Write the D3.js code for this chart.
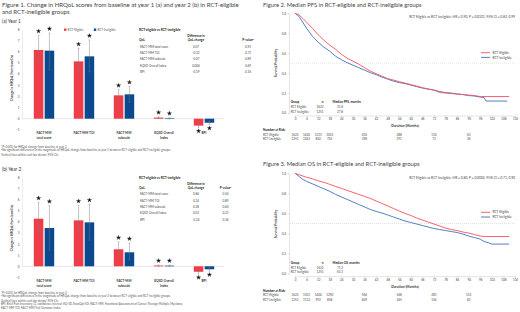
<!DOCTYPE html>
<html><head><meta charset="utf-8">
<script src="https://cdn.jsdelivr.net/npm/d3@7"></script>
<style>
html,body{margin:0;padding:0;background:#fff;}
svg{display:block;font-family:Lato,"Open Sans",sans-serif;}
</style></head>
<body>
<script>
// ---------- DATA ----------
const categories = ["FACT-MM|total score","FACT-MM TOI","FACT-MM|subscale","EQ5D Overall|Index","BPI"];
const groups = ["RCT-Eligible","RCT-Ineligible"];
const yTicks = [-1,0,1,2,3,4,5,6,7,8];

// Year 1
const y1Eligible   = [6.15, 5.13, 2.09, 0.10, -0.62];
const y1EligLo     = [4.87, 4.06, 1.60, 0.02, -0.80];
const y1EligHi     = [7.46, 6.30, 2.60, 0.18, -0.45];
const y1Ineligible = [6.09, 5.58, 2.18, 0.05, -0.36];
const y1IneligLo   = [4.36, 4.20, 1.45, -0.02, -0.55];
const y1IneligHi   = [7.67, 7.05, 2.88, 0.10, -0.20];
// Year 2
const y2Eligible   = [4.28, 4.13, 1.53, 0.07, -0.49];
const y2EligLo     = [2.80, 2.93, 0.95, 0.00, -0.70];
const y2EligHi     = [5.75, 5.48, 2.20, 0.12, -0.30];
const y2Ineligible = [3.44, 3.95, 1.26, 0.06, -0.27];
const y2IneligLo   = [1.45, 2.35, 0.57, 0.00, -0.45];
const y2IneligHi   = [5.45, 5.57, 2.10, 0.12, -0.10];

const tableRows = ["FACT-MM total score","FACT-MM TOI","FACT-MM subscale","EQ5D Overall Index","BPI"];
const y1Diff = ["0.07","-0.32","-0.07","0.004","-0.19"];
const y1P    = ["0.95","0.72","0.89","0.69","0.16"];
const y2Diff = ["0.84","0.14","0.28","0.01","-0.14"];
const y2P    = ["0.50","0.89","0.60","0.21","0.34"];

// Kaplan-Meier
const kmTicksX = [0,6,12,18,24,30,36,42,48,54,60,66,72,78,84,90,96,102,108,114];
const kmTicksY = [0,0.2,0.4,0.6,0.8,1.0];
const pfsEligT = [0,2,4,6,9,12,15,18,21,24,27,30,33,36,39,42,45,48,51,54,57,60,63,66,69,72,75,78,81,84,87,90,93,96,100,111];
const pfsEligS = [1,0.985,0.95,0.91,0.85,0.785,0.73,0.68,0.64,0.59,0.55,0.52,0.49,0.455,0.42,0.395,0.37,0.345,0.33,0.315,0.3,0.285,0.27,0.255,0.24,0.23,0.205,0.2,0.195,0.19,0.185,0.18,0.175,0.165,0.165,0.165];
const pfsInelT = [0,2,4,6,9,12,15,18,21,24,27,30,33,36,39,42,45,48,51,54,57,60,63,66,69,72,75,78,81,84,87,90,93,96,98,99,110];
const pfsInelS = [1,0.97,0.91,0.85,0.77,0.71,0.66,0.62,0.57,0.535,0.505,0.48,0.455,0.43,0.405,0.385,0.36,0.34,0.32,0.305,0.295,0.28,0.265,0.25,0.24,0.23,0.215,0.205,0.2,0.19,0.185,0.175,0.17,0.16,0.155,0.12,0.12];
const osEligT = [0,3,6,9,12,15,18,21,24,27,30,33,36,39,42,45,48,51,54,57,60,63,66,69,72,75,78,81,84,87,90,93,96,98,111];
const osEligS = [1,0.98,0.96,0.945,0.925,0.91,0.89,0.87,0.85,0.83,0.81,0.79,0.77,0.75,0.725,0.7,0.675,0.65,0.625,0.6,0.58,0.555,0.535,0.515,0.495,0.475,0.455,0.44,0.43,0.415,0.405,0.39,0.375,0.37,0.37];
const osInelT = [0,2,4,6,9,12,15,18,21,24,27,30,33,36,39,42,45,48,51,54,57,60,63,66,69,72,75,78,81,84,87,90,93,96,98,100,102,111];
const osInelS = [1,0.97,0.94,0.92,0.895,0.87,0.845,0.82,0.79,0.765,0.74,0.715,0.69,0.665,0.64,0.62,0.605,0.585,0.565,0.545,0.525,0.51,0.495,0.48,0.465,0.45,0.44,0.43,0.42,0.41,0.395,0.375,0.36,0.345,0.32,0.31,0.295,0.295];

const riskMonths = [0,6,12,18,36,54,72,90];
const pfsRiskElig = [1622,1420,1215,1053,610,288,130,63];
const pfsRiskInel = [1251,1043,850,702,398,191,73,36];
const osRiskElig  = [1622,1501,1404,1290,944,548,281,153];
const osRiskInel  = [1251,1112,992,858,609,345,156,83];

// ---------- STYLE ----------
const RED = "#ee3d49", BLUE = "#0c4a90";
const KRED = "#f8505c", KBLUE = "#3f72bb";

const svg = d3.select("body").append("svg").attr("width",520).attr("height",312);
svg.append("rect").attr("width",520).attr("height",312).attr("fill","#fff");

function txt(x,y,s,o={}){
  const t = svg.append("text").attr("x",x).attr("y",y).attr("dy","0.35em")
    .attr("font-size",o.size||3).attr("fill",o.fill||"#333")
    .attr("font-weight",o.bold?"bold":"normal")
    .attr("text-anchor",o.anchor||"start");
  if(o.rotate) t.attr("transform",`rotate(-90,${x},${y})`);
  t.text(s);
  return t;
}

// ---------- FIGURE 1 ----------
txt(2,5,"Figure 1. Change in HRQoL scores from baseline at year 1 (a) and year 2 (b) in RCT-eligible",{size:6.05,fill:"#444"});
txt(2,11.6,"and RCT-ineligible groups",{size:6.05,fill:"#444"});

function barPanel(p){
  const y = d3.scaleLinear().domain([0,8]).range([p.zero,p.eight]);
  const x0 = d3.scaleBand().domain(categories).range([24,224]);
  const x1 = d3.scaleBand().domain(groups).range([9.8,30.2]).paddingInner(0.12);
  const g = svg.append("g");
  const ax = g.append("g").attr("transform","translate(22,0)")
    .call(d3.axisLeft(y).tickValues(yTicks).tickSize(0).tickPadding(2.5));
  ax.select(".domain").attr("stroke","#d4d4d4").attr("stroke-width",0.4);
  ax.selectAll("text").attr("font-size",3).attr("fill","#444").attr("font-family","Lato,sans-serif");
  g.append("line").attr("x1",22).attr("x2",224).attr("y1",y(0)).attr("y2",y(0))
    .attr("stroke","#cfcfcf").attr("stroke-width",0.5);
  const series = [
    {gr:groups[0],v:p.e,lo:p.elo,hi:p.ehi,c:RED},
    {gr:groups[1],v:p.i,lo:p.ilo,hi:p.ihi,c:BLUE}
  ];
  series.forEach(s=>{
    categories.forEach((c,k)=>{
      const bx = x0(c)+x1(s.gr), bw = x1.bandwidth();
      const v = s.v[k];
      g.append("rect").attr("x",bx).attr("width",bw)
        .attr("y",Math.min(y(v),y(0))).attr("height",Math.abs(y(v)-y(0)))
        .attr("fill",s.c);
      const cx = bx+bw/2;
      g.append("line").attr("x1",cx).attr("x2",cx).attr("y1",y(s.lo[k])).attr("y2",y(s.hi[k]))
        .attr("stroke","#7a7a7a").attr("stroke-width",0.45);
      [s.lo[k],s.hi[k]].forEach(e=>g.append("line").attr("x1",cx-0.8).attr("x2",cx+0.8)
        .attr("y1",y(e)).attr("y2",y(e)).attr("stroke","#7a7a7a").attr("stroke-width",0.45));
      const ay = v>=0 ? y(s.hi[k])-4.2 : y(s.lo[k])+3.4;
      g.append("path").attr("d",d3.symbol(d3.symbolStar,5.5)())
        .attr("transform",`translate(${cx},${ay})`).attr("fill","#111").attr("stroke","#111").attr("stroke-width",0.3);
    });
  });
  categories.forEach(c=>{
    c.split("|").forEach((ln,j)=>txt(x0(c)+x0.bandwidth()/2,p.lab+j*4.4,ln,{size:3.2,anchor:"middle",fill:"#333",bold:true}));
  });
  txt(11.5,p.ytc,"Change in HRQoL from baseline",{size:3.3,rotate:true,anchor:"middle",fill:"#333",bold:true});
  txt(139,p.t0,"RCT-eligible vs RCT-ineligible",{size:3.2,bold:true,fill:"#222"});
  txt(p.dc,p.t0+5.8,"Difference in",{size:3.1,bold:true,anchor:"middle",fill:"#222"});
  txt(p.dc,p.t0+10.3,"QoL change",{size:3.1,bold:true,anchor:"middle",fill:"#222"});
  txt(139,p.t0+10.3,"QoL",{size:3.1,bold:true,fill:"#222"});
  const ph = txt(p.pc,p.t0+10.3,"P-value",{size:3.1,bold:true,anchor:"middle",fill:"#222"});
  ph.append("tspan").attr("font-size",2).attr("dy","-1").text("b");
  tableRows.forEach((r,k)=>{
    const ry = p.t0+16.5+k*6.35;
    txt(140,ry,r,{size:3,fill:"#444"});
    txt(p.dc,ry,p.diff[k],{size:3,anchor:"middle",fill:"#444"});
    txt(p.pc,ry,p.pv[k],{size:3,anchor:"middle",fill:"#444"});
  });
}

txt(2,21,"(a)  Year 1",{size:4.8,fill:"#333"});
barPanel({zero:118.7,eight:29.3,e:y1Eligible,elo:y1EligLo,ehi:y1EligHi,i:y1Ineligible,ilo:y1IneligLo,ihi:y1IneligHi,
  lab:133.3,ytc:78,t0:30,dc:196,pc:248,diff:y1Diff,pv:y1P});
svg.append("rect").attr("x",64).attr("y",28.5).attr("width",2.4).attr("height",2.4).attr("fill",RED);
txt(67.6,29.7,"RCT-Eligible",{size:3,fill:"#555"});
svg.append("rect").attr("x",93.8).attr("y",28.5).attr("width",2.4).attr("height",2.4).attr("fill",BLUE);
txt(97.4,29.7,"RCT-Ineligible",{size:3,fill:"#555"});

txt(1,146.5,"*P<0.001 for HRQoL change from baseline at year 1.",{size:2.9,fill:"#555"});
const fb1 = txt(1,150.6,"",{size:2.9,fill:"#555"});
fb1.append("tspan").attr("font-size",2).attr("dy","-0.8").text("b");
fb1.append("tspan").attr("dy","0.8").text("No significant differences in the magnitude of HRQoL change from baseline at year 1 between RCT-eligible and RCT-ineligible groups.");
txt(1,154.6,"Vertical lines within each bar denote 95% CIs.",{size:2.9,fill:"#555"});

txt(2,169,"(b)  Year 2",{size:4.8,fill:"#333"});
barPanel({zero:266.3,eight:177.3,e:y2Eligible,elo:y2EligLo,ehi:y2EligHi,i:y2Ineligible,ilo:y2IneligLo,ihi:y2IneligHi,
  lab:281,ytc:228,t0:177.7,dc:196,pc:225.5,diff:y2Diff,pv:y2P});

txt(1,293.3,"*P<0.001 for HRQoL change from baseline at year 2.",{size:2.9,fill:"#555"});
const fb2 = txt(1,297,"",{size:2.9,fill:"#555"});
fb2.append("tspan").attr("font-size",2).attr("dy","-0.8").text("b");
fb2.append("tspan").attr("dy","0.8").text("No significant differences in the magnitude of HRQoL change from baseline at year 2 between RCT-eligible and RCT-ineligible groups.");
txt(1,300.7,"Vertical lines within each bar denote 95% CIs.",{size:2.9,fill:"#555"});
txt(1,304.4,"BPI, Brief Pain Inventory; CI, confidence interval; EQ-5D, EuroQol-5D; FACT-MM, Functional Assessment of Cancer Therapy-Multiple Myeloma;",{size:2.9,fill:"#555"});
txt(1,308.1,"FACT-MM TOI, FACT-MM Trial Outcome Index.",{size:2.9,fill:"#555"});

// ---------- FIGURES 2 & 3 ----------
function kmPanel(p){
  const x = d3.scaleLinear().domain([0,114]).range([295,515]);
  const y = d3.scaleLinear().domain([0,1]).range([p.y0,p.y1]);
  const g = svg.append("g");
  txt(263,p.title,p.titleText,{size:5.8,fill:"#444"});
  const axY = g.append("g").attr("transform","translate(289,0)")
    .call(d3.axisLeft(y).tickValues(kmTicksY).tickFormat(d3.format(".1f")).tickSize(1.5).tickPadding(1.5));
  const axX = g.append("g").attr("transform",`translate(0,${p.y0+2.5})`)
    .call(d3.axisBottom(x).tickValues(kmTicksX).tickSize(1.5).tickPadding(1.2));
  [axY,axX].forEach(a=>{
    a.select(".domain").attr("stroke","#bbb").attr("stroke-width",0.4);
    a.selectAll(".tick line").attr("stroke","#bbb").attr("stroke-width",0.4);
    a.selectAll("text").attr("font-size",3).attr("fill","#444").attr("font-family","Lato,sans-serif");
  });
  g.append("line").attr("x1",290).attr("x2",515).attr("y1",y(0.5)).attr("y2",y(0.5))
    .attr("stroke","#bbb").attr("stroke-width",0.45).attr("stroke-dasharray","1,1");
  const line = d3.line().x(d=>x(d[0])).y(d=>y(d[1]));
  [[p.it,p.is,KBLUE],[p.et,p.es,KRED]].forEach(([t,s,c])=>{
    g.append("path").attr("d",line(t.map((v,k)=>[v,s[k]]))).attr("fill","none")
      .attr("stroke",c).attr("stroke-width",0.9);
  });
  txt(515,p.ann,p.annText,{size:3.3,anchor:"end",fill:"#444"});
  g.append("line").attr("x1",481).attr("x2",490).attr("y1",p.leg).attr("y2",p.leg).attr("stroke",KRED).attr("stroke-width",0.9);
  txt(492.5,p.leg,"RCT Eligible",{size:3.2,fill:"#444"});
  g.append("line").attr("x1",481).attr("x2",490).attr("y1",p.leg+4.7).attr("y2",p.leg+4.7).attr("stroke",KBLUE).attr("stroke-width",0.9);
  txt(492.5,p.leg+4.7,"RCT Ineligible",{size:3.2,fill:"#444"});
  txt(276,p.ytc,"Survival Probability",{size:3.3,rotate:true,anchor:"middle",bold:true,fill:"#333"});
  txt(405,p.y0+13,"Duration (Months)",{size:3.4,anchor:"middle",bold:true,fill:"#333"});
  const tb = p.y0-10.7;
  txt(290.7,tb,"Group",{size:3.1,bold:true,fill:"#222"});
  txt(322.5,tb,"n",{size:3.1,bold:true,anchor:"middle",fill:"#222"});
  txt(332.5,tb,p.medHead,{size:3.1,bold:true,fill:"#222"});
  txt(290.7,tb+4.6,"RCT Eligible",{size:3,fill:"#444"});
  txt(323.5,tb+4.6,"1622",{size:3,anchor:"end",fill:"#444"});
  txt(340,tb+4.6,p.med[0],{size:3,anchor:"middle",fill:"#444"});
  txt(290.7,tb+9.2,"RCT Ineligible",{size:3,fill:"#444"});
  txt(323.5,tb+9.2,"1251",{size:3,anchor:"end",fill:"#444"});
  txt(340,tb+9.2,p.med[1],{size:3,anchor:"middle",fill:"#444"});
  const nr = p.y0+17.3;
  txt(263,nr,"Number at Risk:",{size:3.2,bold:true,fill:"#222"});
  txt(263,nr+4.4,"RCT Eligible",{size:3,fill:"#444"});
  txt(263,nr+8.7,"RCT Ineligible",{size:3,fill:"#444"});
  riskMonths.forEach((m,k)=>{
    txt(x(m),nr+4.4,String(p.re[k]),{size:3,anchor:"middle",fill:"#444"});
    txt(x(m),nr+8.7,String(p.ri[k]),{size:3,anchor:"middle",fill:"#444"});
  });
}

kmPanel({title:5,titleText:"Figure 2. Median PFS in RCT-eligible and RCT-ineligible groups",
  y0:113,y1:13.3,et:pfsEligT,es:pfsEligS,it:pfsInelT,is:pfsInelS,
  ann:17.3,annText:"RCT Eligible vs RCT Ineligible: HR = 0.90, P = 0.0321, 95% CI = 0.82, 0.99",
  leg:52.7,ytc:63,medHead:"Median PFS, months",med:["31.8","27.8"],re:pfsRiskElig,ri:pfsRiskInel});
kmPanel({title:164.3,titleText:"Figure 3. Median OS in RCT-eligible and RCT-ineligible groups",
  y0:273.7,y1:173.3,et:osEligT,es:osEligS,it:osInelT,is:osInelS,
  ann:178.3,annText:"RCT Eligible vs RCT Ineligible: HR = 0.80, P = 0.0002, 95% CI = 0.71, 0.90",
  leg:212.3,ytc:224,medHead:"Median OS, months",med:["71.3","63.1"],re:osRiskElig,ri:osRiskInel});
</script>
</body></html>
